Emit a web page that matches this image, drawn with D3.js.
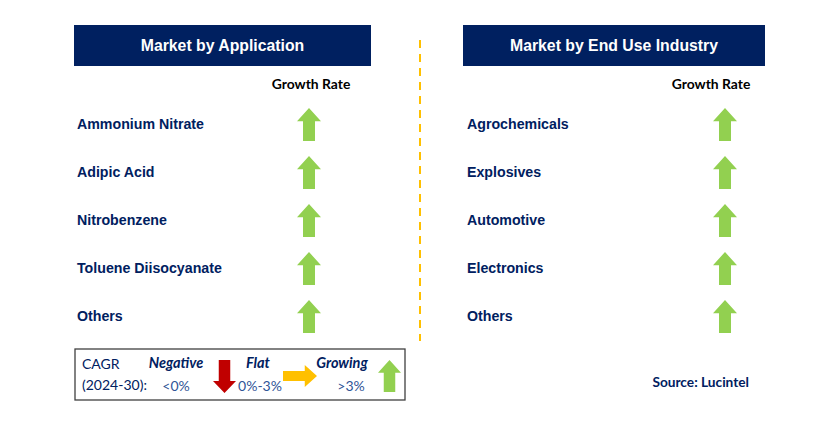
<!DOCTYPE html>
<html>
<head>
<meta charset="utf-8">
<script src="https://cdn.jsdelivr.net/npm/d3@7"></script>
<style>
  html, body { margin: 0; padding: 0; background: #fff; }
  svg { display: block; }
</style>
</head>
<body>
<svg id="chart" width="813" height="436"></svg>
<script>
// ---- data ----
const applicationCategories = ["Ammonium Nitrate", "Adipic Acid", "Nitrobenzene", "Toluene Diisocyanate", "Others"];
const applicationGrowth = ["growing", "growing", "growing", "growing", "growing"];
const endUseCategories = ["Agrochemicals", "Explosives", "Automotive", "Electronics", "Others"];
const endUseGrowth = ["growing", "growing", "growing", "growing", "growing"];
const panelTitles = ["Market by Application", "Market by End Use Industry"];
const columnHeader = "Growth Rate";
const legendTitle = ["CAGR", "(2024-30):"];
const legendLabels = ["Negative", "Flat", "Growing"];
const legendRanges = ["<0%", "0%-3%", ">3%"];
const legendTypes = ["negative", "flat", "growing"];
const sourceText = "Source: Lucintel";

// ---- styles ----
const NAVY = "#002060";
const GREEN = "#92D050";
const RED = "#C00000";
const ORANGE = "#FFC000";
const colorOf = { growing: GREEN, negative: RED, flat: ORANGE };

const svg = d3.select("#chart");

// arrow path: up / down / right, given bounding box
function arrowPath(type, x, y, w, h) {
  const p = d3.path();
  if (type === "growing") {
    const hh = h * 0.40, sw = w * 0.5, cx = x + w / 2;
    p.moveTo(cx, y); p.lineTo(x + w, y + hh); p.lineTo(cx + sw / 2, y + hh);
    p.lineTo(cx + sw / 2, y + h); p.lineTo(cx - sw / 2, y + h); p.lineTo(cx - sw / 2, y + hh);
    p.lineTo(x, y + hh); p.closePath();
  } else if (type === "negative") {
    const hh = h * 0.36, sw = w * 0.5, cx = x + w / 2;
    p.moveTo(cx, y + h); p.lineTo(x + w, y + h - hh); p.lineTo(cx + sw / 2, y + h - hh);
    p.lineTo(cx + sw / 2, y); p.lineTo(cx - sw / 2, y); p.lineTo(cx - sw / 2, y + h - hh);
    p.lineTo(x, y + h - hh); p.closePath();
  } else {
    const hw = w * 0.36, sh = h * 0.46, cy = y + h / 2;
    p.moveTo(x + w, cy); p.lineTo(x + w - hw, y + h); p.lineTo(x + w - hw, cy + sh / 2);
    p.lineTo(x, cy + sh / 2); p.lineTo(x, cy - sh / 2); p.lineTo(x + w - hw, cy - sh / 2);
    p.lineTo(x + w - hw, y); p.closePath();
  }
  return p.toString();
}

// row scale shared by both panels
const yRow = d3.scaleBand().domain(d3.range(5)).range([99, 339]);

const panels = [
  { title: panelTitles[0], cats: applicationCategories, growth: applicationGrowth,
    boxX: 74, boxW: 297, labelX: 77, arrowCX: 309, headerCX: 311 },
  { title: panelTitles[1], cats: endUseCategories, growth: endUseGrowth,
    boxX: 463, boxW: 302, labelX: 467, arrowCX: 725, headerCX: 711 }
];

panels.forEach(pn => {
  const g = svg.append("g");
  g.append("rect").attr("x", pn.boxX).attr("y", 25).attr("width", pn.boxW).attr("height", 41)
    .attr("fill", NAVY);
  g.append("text").attr("x", pn.boxX + pn.boxW / 2).attr("y", 51)
    .attr("text-anchor", "middle").attr("fill", "#fff")
    .style("font", "bold 15.8px 'Liberation Sans', Arial, sans-serif")
    .text(pn.title);
  g.append("text").attr("x", pn.headerCX).attr("y", 89)
    .attr("text-anchor", "middle").attr("fill", "#000")
    .style("font", "bold 13.9px Lato, 'Open Sans', sans-serif")
    .text(columnHeader);

  const rows = g.selectAll("g.row").data(pn.cats.map((c, i) => ({ c, i, t: pn.growth[i] })))
    .join("g").attr("class", "row");
  rows.append("text")
    .attr("x", pn.labelX)
    .attr("y", d => yRow(d.i) + yRow.bandwidth() / 2 + 5.5)
    .attr("fill", NAVY)
    .style("font", "bold 14.2px 'Liberation Sans', Arial, sans-serif")
    .text(d => d.c);
  rows.append("path")
    .attr("d", d => {
      const cy = yRow(d.i) + yRow.bandwidth() / 2 + 1;
      return arrowPath(d.t, pn.arrowCX - 12, cy - 16, 24, 33);
    })
    .attr("fill", d => colorOf[d.t]);
});

// dashed separator
svg.append("line").attr("x1", 420).attr("x2", 420).attr("y1", 40).attr("y2", 341)
  .attr("stroke", ORANGE).attr("stroke-width", 2).attr("stroke-dasharray", "8,6");

// legend
const lg = svg.append("g");
lg.append("rect").attr("x", 75).attr("y", 349).attr("width", 330).attr("height", 51)
  .attr("fill", "none").attr("stroke", "#404040").attr("stroke-width", 1.3);
lg.append("text").attr("x", 82).attr("y", 369).attr("fill", NAVY)
  .style("font", "14px Lato, 'Open Sans', sans-serif").text(legendTitle[0]);
lg.append("text").attr("x", 82).attr("y", 390).attr("fill", NAVY)
  .style("font", "14px Lato, 'Open Sans', sans-serif").text(legendTitle[1]);

const legendItems = [
  { labelCX: 176, rangeCX: 176, box: [213, 360, 23, 33] },
  { labelCX: 258, rangeCX: 260, box: [283, 365, 34, 22] },
  { labelCX: 342, rangeCX: 351, box: [378, 360, 23, 32] }
];
legendTypes.forEach((t, i) => {
  const it = legendItems[i];
  lg.append("text").attr("x", it.labelCX).attr("y", 368).attr("text-anchor", "middle")
    .attr("fill", NAVY).style("font", "italic bold 14.5px Lato, 'Open Sans', sans-serif")
    .text(legendLabels[i]);
  lg.append("text").attr("x", it.rangeCX).attr("y", 391).attr("text-anchor", "middle")
    .attr("fill", "#2F5597").style("font", "14px Lato, 'Open Sans', sans-serif")
    .text(legendRanges[i]);
  lg.append("path").attr("d", arrowPath(t, ...it.box)).attr("fill", colorOf[t]);
});

svg.append("text").attr("x", 749).attr("y", 387).attr("text-anchor", "end")
  .attr("fill", NAVY).style("font", "bold 13.7px Lato, 'Open Sans', sans-serif")
  .text(sourceText);
</script>
</body>
</html>
